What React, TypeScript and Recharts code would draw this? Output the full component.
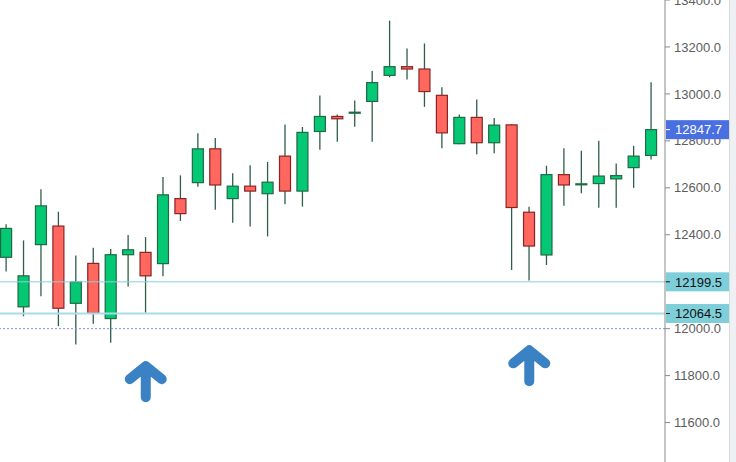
import { Bar, ComposedChart, ReferenceDot, ReferenceLine, XAxis, YAxis } from 'recharts'

// daily candles, left to right
const days = [
  '1', '2', '3', '4', '5', '6', '7', '8', '9', '10',
  '11', '12', '13', '14', '15', '16', '17', '18', '19', '20',
  '21', '22', '23', '24', '25', '26', '27', '28', '29', '30',
  '31', '32', '33', '34', '35', '36', '37', '38',
]
const opens = [
  12304, 12093, 12358, 12437, 12108, 12278, 12043, 12315, 12325, 12277,
  12554, 12622, 12766, 12554, 12607, 12575, 12735, 12586, 12840, 12904,
  12920, 12968, 13079, 13116, 13106, 12994, 12788, 12900, 12792, 12868,
  12496, 12314, 12656, 12615, 12618, 12638, 12686, 12738,
]
const highs = [
  12445, 12376, 12594, 12498, 12312, 12345, 12339, 12399, 12390, 12646,
  12653, 12832, 12812, 12662, 12696, 12710, 12870, 12859, 12993, 12912,
  12972, 13098, 13312, 13193, 13215, 13028, 12912, 12976, 12897, 12871,
  12519, 12694, 12769, 12758, 12800, 12704, 12779, 13050,
]
const lows = [
  12244, 12053, 12138, 12011, 11932, 12021, 11940, 12180, 12068, 12223,
  12459, 12605, 12507, 12451, 12435, 12393, 12530, 12520, 12762, 12796,
  12860, 12796, 13071, 13061, 12945, 12769, 12786, 12743, 12747, 12250,
  12205, 12271, 12524, 12577, 12515, 12515, 12600, 12721,
]
const closes = [
  12427, 12225, 12523, 12087, 12199, 12065, 12315, 12336, 12225, 12570,
  12490, 12766, 12612, 12607, 12586, 12624, 12586, 12836, 12904, 12894,
  12922, 13048, 13116, 13106, 13010, 12834, 12900, 12792, 12867, 12516,
  12352, 12656, 12612, 12617, 12650, 12652, 12735, 12847.7,
]

const priceTicks = [11600, 11800, 12000, 12200, 12400, 12600, 12800, 13000, 13200, 13400]
const levels = [12199.5, 12064.5]
const lastPrice = 12847.7
const roundLevel = 12000
const arrowDays = ['9', '31']
const arrowPrices = [11840, 11908]

const data = days.map((day, i) => ({
  day,
  open: opens[i],
  high: highs[i],
  low: lows[i],
  close: closes[i],
  range: [lows[i], highs[i]],
}))

const FONT = 'Arial, "Liberation Sans", sans-serif'
const W = 736
const H = 462
const AXIS_W = 71
const DOMAIN: [number, number] = [11432, 13400]

const Candle = (props: any) => {
  const { x, y, width, height, payload } = props
  const { open, close, high, low } = payload
  const top = Math.min(y, y + height)
  const h = Math.abs(height)
  // price -> pixel inside the high/low range the bar was given
  const py = (v: number) => top + ((high - v) / (high - low)) * h
  const up = close >= open
  const cx = x + width / 2
  const bTop = py(Math.max(open, close))
  const bBot = py(Math.min(open, close))
  return (
    <g>
      <line x1={cx} x2={cx} y1={top} y2={top + h} stroke="#2f5e47" strokeWidth={1.3} />
      <rect
        x={x}
        y={bTop}
        width={width}
        height={Math.max(bBot - bTop, 1)}
        fill={up ? '#05c874' : '#ff675f'}
        stroke={up ? '#1e6a45' : '#8a2424'}
        strokeWidth={1.2}
      />
    </g>
  )
}

const PriceTag = ({ viewBox, text, bg, color }: any) => {
  const { x, y, width } = viewBox
  const left = x + width + 1
  return (
    <g>
      <rect x={left} y={y - 9.5} width={63} height={19} fill={bg} />
      <line x1={left} x2={left + 4} y1={y} y2={y} stroke={color} />
      <text x={left + 9} y={y} dy="0.36em" fontSize={13} fill={color} fontFamily={FONT}>
        {text}
      </text>
    </g>
  )
}

const UpArrow = ({ cx, cy }: any) => (
  <path
    d={`M${cx} ${cy + 31} V${cy} M${cx - 16} ${cy + 13} L${cx} ${cy} L${cx + 16} ${cy + 13}`}
    stroke="#3b82c4"
    strokeWidth={10}
    strokeLinecap="round"
    strokeLinejoin="round"
    fill="none"
  />
)

export default function App() {
  return (
    <div
      style={{
        position: 'absolute',
        left: 0,
        top: 0,
        width: W,
        height: H,
        background: '#fff',
        overflow: 'hidden',
      }}
    >
      <ComposedChart width={W} height={H} data={data} margin={{ top: 0, right: 0, bottom: 0, left: 0 }}>
        <XAxis dataKey="day" hide padding={{ left: -2.4, right: 5 }} />
        <YAxis
          orientation="right"
          width={AXIS_W}
          domain={DOMAIN}
          allowDataOverflow
          ticks={priceTicks}
          interval={0}
          tickFormatter={(v: number) => v.toFixed(1)}
          tick={{ fontSize: 13, fill: '#5d5d5d', fontFamily: FONT }}
          tickSize={5}
          tickMargin={4}
          axisLine={{ stroke: '#8a8a8a' }}
          tickLine={{ stroke: '#8a8a8a' }}
        />

        <Bar dataKey="range" barSize={11} shape={Candle} isAnimationActive={false} />

        <ReferenceLine y={roundLevel} stroke="#7f8ff0" strokeDasharray="2 2" />
        <ReferenceLine y={levels[0]} stroke="#86d2de" />
        <ReferenceLine y={levels[1]} stroke="#a8dde7" strokeWidth={2} />

        {arrowDays.map((d, i) => (
          <ReferenceDot key={d} x={d} y={arrowPrices[i]} shape={UpArrow} />
        ))}
      </ComposedChart>

      {/* price tags sit on top of the axis labels, so they get their own layer */}
      <div style={{ position: 'absolute', left: 0, top: 0 }}>
        <ComposedChart width={W} height={H} data={data} margin={{ top: 0, right: AXIS_W, bottom: 0, left: 0 }}>
          <XAxis dataKey="day" hide padding={{ left: -2.4, right: 5 }} />
          <YAxis hide domain={DOMAIN} allowDataOverflow />
          <ReferenceLine
            y={levels[0]}
            stroke="none"
            label={<PriceTag text={levels[0].toFixed(1)} bg="#7fcfdb" color="#111" />}
          />
          <ReferenceLine
            y={levels[1]}
            stroke="none"
            label={<PriceTag text={levels[1].toFixed(1)} bg="#7fcfdb" color="#111" />}
          />
          <ReferenceLine
            y={lastPrice}
            stroke="none"
            label={<PriceTag text={lastPrice.toFixed(1)} bg="#4a6fe0" color="#fff" />}
          />
        </ComposedChart>
      </div>

      <div
        style={{
          position: 'absolute',
          left: 729,
          top: 0,
          width: 7,
          height: H,
          background: '#eef0f4',
          borderLeft: '1px solid #d8dbe0',
          boxSizing: 'border-box',
        }}
      />
    </div>
  )
}
